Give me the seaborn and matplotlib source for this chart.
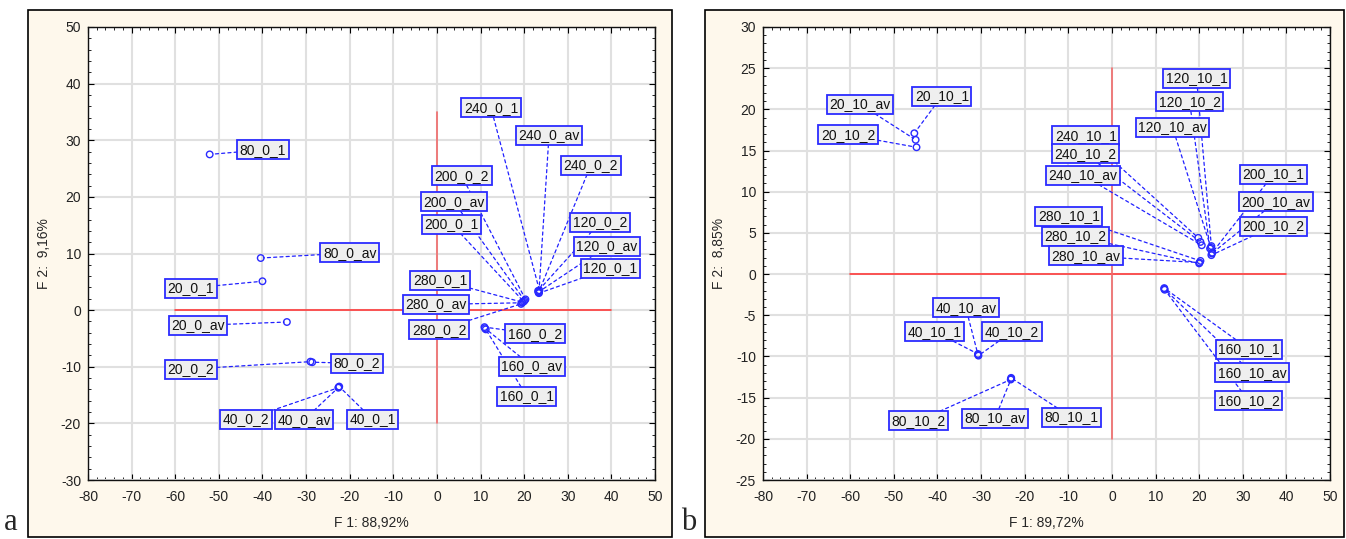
import pandas as pd
import matplotlib.pyplot as plt
import seaborn as sns
from matplotlib.patches import Rectangle
from matplotlib.ticker import MultipleLocator, AutoMinorLocator

# panel a: factor scores (F1, F2)
names_a = ['20_0_1', '20_0_2', '20_0_av', '40_0_1', '40_0_2', '40_0_av',
           '80_0_1', '80_0_2', '80_0_av', '120_0_1', '120_0_2', '120_0_av',
           '160_0_1', '160_0_2', '160_0_av', '200_0_1', '200_0_2', '200_0_av',
           '240_0_1', '240_0_2', '240_0_av', '280_0_1', '280_0_2', '280_0_av']
f1_a = [-40.0, -29.0, -34.4, -22.4, -22.6, -22.5,
        -52.1, -28.6, -40.4, 23.4, 23.2, 23.3,
        11.2, 10.9, 11.0, 19.9, 20.3, 20.1,
        23.5, 23.3, 23.4, 19.6, 19.3, 19.5]
f2_a = [5.1, -9.1, -2.1, -13.5, -13.7, -13.6,
        27.5, -9.2, 9.2, 3.0, 3.4, 3.2,
        -3.4, -3.0, -3.2, 1.5, 1.9, 1.7,
        3.5, 3.1, 3.3, 1.4, 1.1, 1.3]

# panel b
names_b = ['20_10_1', '20_10_2', '20_10_av', '40_10_1', '40_10_2', '40_10_av',
           '80_10_1', '80_10_2', '80_10_av', '120_10_1', '120_10_2', '120_10_av',
           '160_10_1', '160_10_2', '160_10_av', '200_10_1', '200_10_2', '200_10_av',
           '240_10_1', '240_10_2', '240_10_av', '280_10_1', '280_10_2', '280_10_av']
f1_b = [-45.3, -44.8, -45.0, -30.7, -30.6, -30.7,
        -23.1, -23.2, -23.1, 22.8, 22.5, 22.7,
        12.0, 12.1, 12.0, 23.0, 22.8, 22.9,
        19.8, 20.3, 20.6, 20.3, 20.0, 20.1]
f2_b = [17.1, 15.4, 16.3, -9.7, -9.9, -9.8,
        -12.6, -12.8, -12.7, 3.4, 3.1, 3.2,
        -1.7, -1.9, -1.8, 2.6, 2.3, 2.5,
        4.4, 3.9, 3.5, 1.6, 1.3, 1.4]

# label box centres (layout only)
lab_a = [(-56.4, 3.9), (-56.4, -10.4), (-54.8, -2.7), (-14.7, -19.3), (-43.8, -19.3), (-30.5, -19.4),
         (-39.9, 28.3), (-18.3, -9.4), (-20.0, 10.1), (39.7, 7.4), (37.4, 15.5), (39.0, 11.3),
         (20.6, -15.2), (22.5, -4.2), (21.8, -9.9), (3.4, 15.2), (5.7, 23.7), (3.9, 19.1),
         (12.4, 35.7), (35.3, 25.6), (25.7, 30.9), (0.7, 5.3), (0.5, -3.5), (-0.2, 1.0)]
lab_b = [(-39.0, 21.6), (-60.5, 16.9), (-57.7, 20.6), (-40.6, -7.0), (-22.9, -7.0), (-33.5, -4.1),
         (-9.2, -17.4), (-44.3, -17.8), (-26.8, -17.5), (19.4, 23.8), (17.8, 20.9), (13.9, 17.8),
         (31.4, -9.1), (31.4, -15.4), (32.1, -12.0), (37.0, 12.1), (37.0, 5.8), (37.6, 8.8),
         (-6.0, 16.8), (-6.0, 14.6), (-6.7, 12.0), (-9.9, 7.0), (-8.3, 4.6), (-6.0, 2.2)]

sns.set_style('white')
plt.rcParams['font.family'] = ['Liberation Sans', 'DejaVu Sans']
plt.rcParams['axes.unicode_minus'] = False

W, H = 1346, 539
fig = plt.figure(figsize=(W / 100, H / 100), dpi=100)

# cream panel frames, behind the axes
for x0, x1 in [(28, 672), (705, 1344)]:
    fig.patches.append(Rectangle((x0 / W, 2 / H), (x1 - x0) / W, 527 / H,
                                 transform=fig.transFigure, facecolor='#fef8ec',
                                 edgecolor='black', linewidth=1.2, zorder=-5))
fig.text(4 / W, 2 / H, 'a', family='Liberation Serif', fontsize=22, va='bottom')
fig.text(681 / W, 2 / H, 'b', family='Liberation Serif', fontsize=22, va='bottom')

BOX = 'square,pad=0.18'


def draw_panel(left, names, f1, f2, labels, ylim, ystep, xl, yl, vline):
    ax = fig.add_axes([left / W, 1 - 480 / H, 567 / W, 453 / H])
    ax.set_facecolor('white')
    df = pd.DataFrame({'F1': f1, 'F2': f2, 'name': names})
    ax.set_xlim(-80, 50)
    ax.set_ylim(*ylim)
    ax.xaxis.set_major_locator(MultipleLocator(10))
    ax.yaxis.set_major_locator(MultipleLocator(ystep))
    ax.xaxis.set_minor_locator(AutoMinorLocator(5))
    ax.yaxis.set_minor_locator(AutoMinorLocator(5))
    ax.grid(True, which='major', color='#e0e0e0', linewidth=1.5, zorder=0)
    ax.tick_params(which='both', direction='in', top=True, right=True, bottom=True, left=True,
                   labelsize=10, labelcolor='#222222', color='black')
    ax.tick_params(axis='x', which='major', pad=7)
    ax.tick_params(axis='y', which='major', pad=5)
    ax.tick_params(which='major', length=4)
    ax.tick_params(which='minor', length=2)
    for s in ax.spines.values():
        s.set_color('#111111')
        s.set_linewidth(1.0)
    ax.plot([-60, 40], [0, 0], color='#ff3a3a', lw=1.2, zorder=1)
    ax.plot([0, 0], vline, color='#f06a6a', lw=1.2, zorder=1)
    sns.scatterplot(data=df, x='F1', y='F2', ax=ax, marker='o', s=22,
                    facecolor='none', edgecolor='#2a2aff', linewidth=1.0, zorder=3)
    # leader lines first (invisible text, same box for clipping), then the label boxes on top
    for n, x, y, (lx, ly) in zip(names, f1, f2, labels):
        ax.annotate(n, xy=(x, y), xytext=(lx, ly), ha='center', va='center',
                    fontsize=10, color='none', zorder=4,
                    bbox=dict(boxstyle=BOX, facecolor='none', edgecolor='none', linewidth=1.3),
                    arrowprops=dict(arrowstyle='-', color='#2020ff', lw=0.9,
                                    linestyle=(0, (2.5, 2.5)), shrinkA=0, shrinkB=2))
    for n, (lx, ly) in zip(names, labels):
        ax.text(lx, ly, n, ha='center', va='center', fontsize=10, color='#111111', zorder=5,
                bbox=dict(boxstyle=BOX, facecolor='#efefef', edgecolor='#2b2bff', linewidth=1.3))
    ax.set_xlabel(xl, fontsize=10, labelpad=9)
    ax.set_ylabel(yl, fontsize=10, labelpad=7)
    return ax


draw_panel(88, names_a, f1_a, f2_a, lab_a, (-30, 50), 10,
           'F 1: 88,92%', 'F 2:  9,16%', [-20, 35])
draw_panel(763, names_b, f1_b, f2_b, lab_b, (-25, 30), 5,
           'F 1: 89,72%', 'F 2:  8,85%', [-20, 25])

fig.savefig('out.png', dpi=100)
